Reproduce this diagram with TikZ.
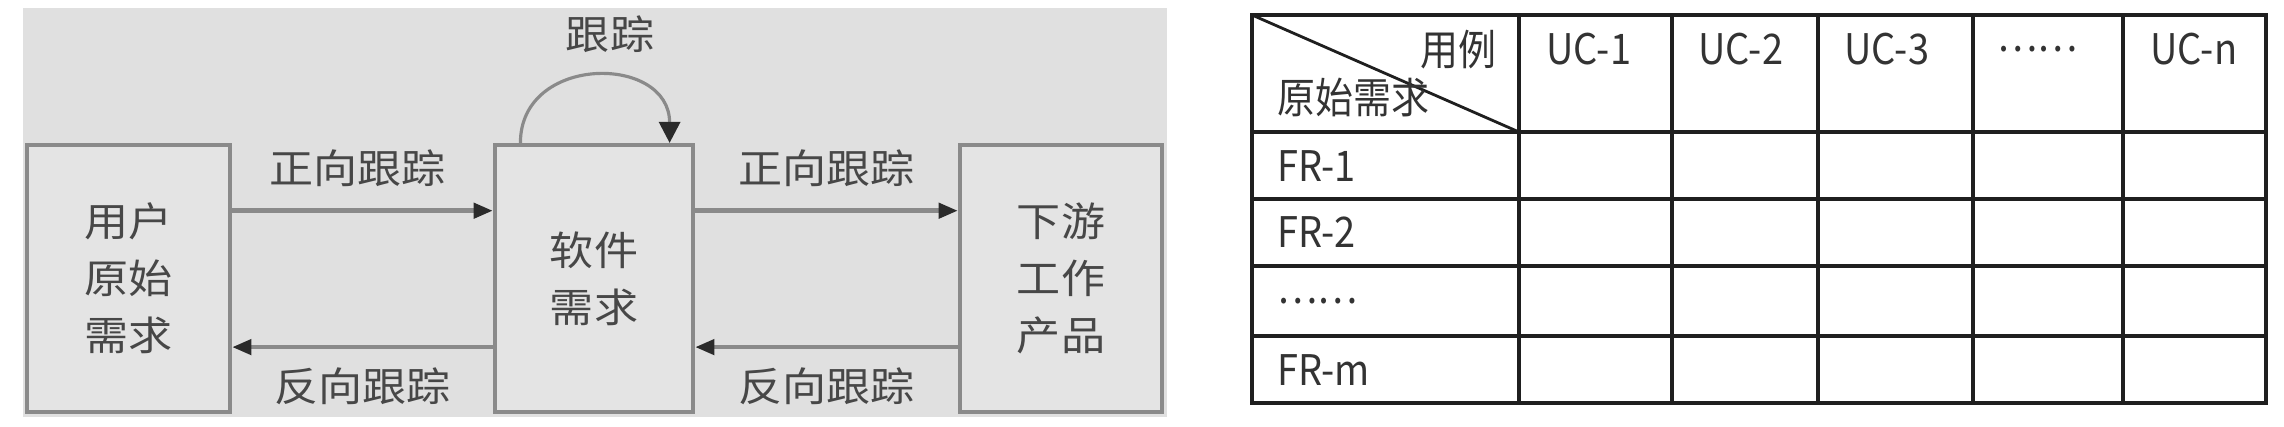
\documentclass[tikz,border=0pt]{standalone}
\usepackage{fontspec}
\setmainfont{Noto Sans CJK SC}
\newfontfamily\diafont[FakeStretch=1.1]{Noto Sans CJK SC}
\newfontfamily\tabfont[FakeStretch=0.9]{Noto Sans CJK SC}
\definecolor{panelgray}{HTML}{E0E0E0}
\definecolor{boxline}{HTML}{8A8A8A}
\definecolor{boxfill}{HTML}{E4E4E4}
\definecolor{textgray}{HTML}{474747}
\definecolor{tipdark}{HTML}{2B2B2B}
\usetikzlibrary{arrows.meta, positioning, calc}

\begin{document}
\begin{tikzpicture}[x=0.02cm, y=-0.02cm,
        reqbox/.style={draw=boxline, fill=boxfill, line width=2.4pt,
                       minimum height=5.34cm, align=center, inner sep=0pt,
                       text=textgray, font=\diafont\fontsize{22.8pt}{32.4pt}\selectfont},
        lbl/.style={inner sep=0pt, text=textgray,
                    font=\diafont\fontsize{22.8pt}{27pt}\selectfont},
        arr/.style={-{Triangle[length=11pt, width=8.5pt, color=tipdark]},
                    boxline, line width=2.6pt},
        looparr/.style={-{Triangle[length=12pt, width=12pt, color=tipdark]},
                        boxline, line width=1.8pt},
        cell/.style={inner sep=0pt, text=black!80,
                     font=\tabfont\fontsize{24pt}{28pt}\selectfont},
        tline/.style={black!88, line width=2.2pt}
      ]
        \useasboundingbox (0,0) rectangle (2284,426);

        % traceability diagram
        \fill[panelgray] (23,8) rectangle (1167,417);
        \node[reqbox, minimum width=4.06cm] (user) at (128.5,278.5) {用户\\原始\\需求};
        \node[reqbox, minimum width=3.96cm] (sw) at (594,278.5) {软件\\需求};
        \node[reqbox, minimum width=4.04cm] (down) at (1061,278.5) {下游\\工作\\产品};

        \draw[arr] ($(user.north east)!.25!(user.south east)$) -- ($(sw.north west)!.25!(sw.south west)$)
          node[lbl, midway, above=0.44cm, xshift=-0.1cm] (fwd1) {正向跟踪};
        \draw[arr] ($(sw.north east)!.25!(sw.south east)$) -- ($(down.north west)!.25!(down.south west)$)
          node[lbl, midway, above=0.44cm] (fwd2) {正向跟踪};
        \draw[arr] ($(sw.north west)!.753!(sw.south west)$) -- ($(user.north east)!.753!(user.south east)$)
          node[lbl, midway, below=0.36cm] (bwd1) {反向跟踪};
        \draw[arr] ($(down.north west)!.753!(down.south west)$) -- ($(sw.north east)!.753!(sw.south east)$)
          node[lbl, midway, below=0.36cm] (bwd2) {反向跟踪};

        \draw[looparr] ($(sw.north west)!.136!(sw.north east)$) .. controls +(0,-89) and +(0,-89) ..
          ($(sw.north west)!.874!(sw.north east)$) node[lbl, pos=0.5, above=0.44cm, xshift=0.3cm] (self) {跟踪};

        % traceability matrix
        \draw[tline] (1252,15) rectangle (2266,403);
        \draw[tline] (1519,15) -- (1519,403) (1672,15) -- (1672,403) (1818,15) -- (1818,403)
          (1973,15) -- (1973,403) (2123,15) -- (2123,403);
        \draw[tline] (1252,132) -- (2266,132) (1252,199) -- (2266,199)
          (1252,266) -- (2266,266) (1252,336) -- (2266,336);
        \draw[tline, line width=1.6pt] (1252,15) -- (1519,132);

        \node[cell, anchor=east] (usecase) at (1497,50) {用例};
        \node[cell, anchor=west] (origreq) at (1277,97) {原始需求};
        \node[cell, anchor=west] (uc1) at (1546,49) {UC-1};
        \node[cell, anchor=west] (uc2) at (1698,49) {UC-2};
        \node[cell, anchor=west] (uc3) at (1844,49) {UC-3};
        \node[cell, anchor=west] (ucdots) at (1997,49) {……};
        \node[cell, anchor=west] (ucn) at (2150,49) {UC-n};
        \node[cell, anchor=west] (fr1) at (1277,166) {FR-1};
        \node[cell, anchor=west] (fr2) at (1277,232) {FR-2};
        \node[cell, anchor=west] (frdots) at (1277,301) {……};
        \node[cell, anchor=west] (frm) at (1277,370) {FR-m};
      \end{tikzpicture}
\end{document}
